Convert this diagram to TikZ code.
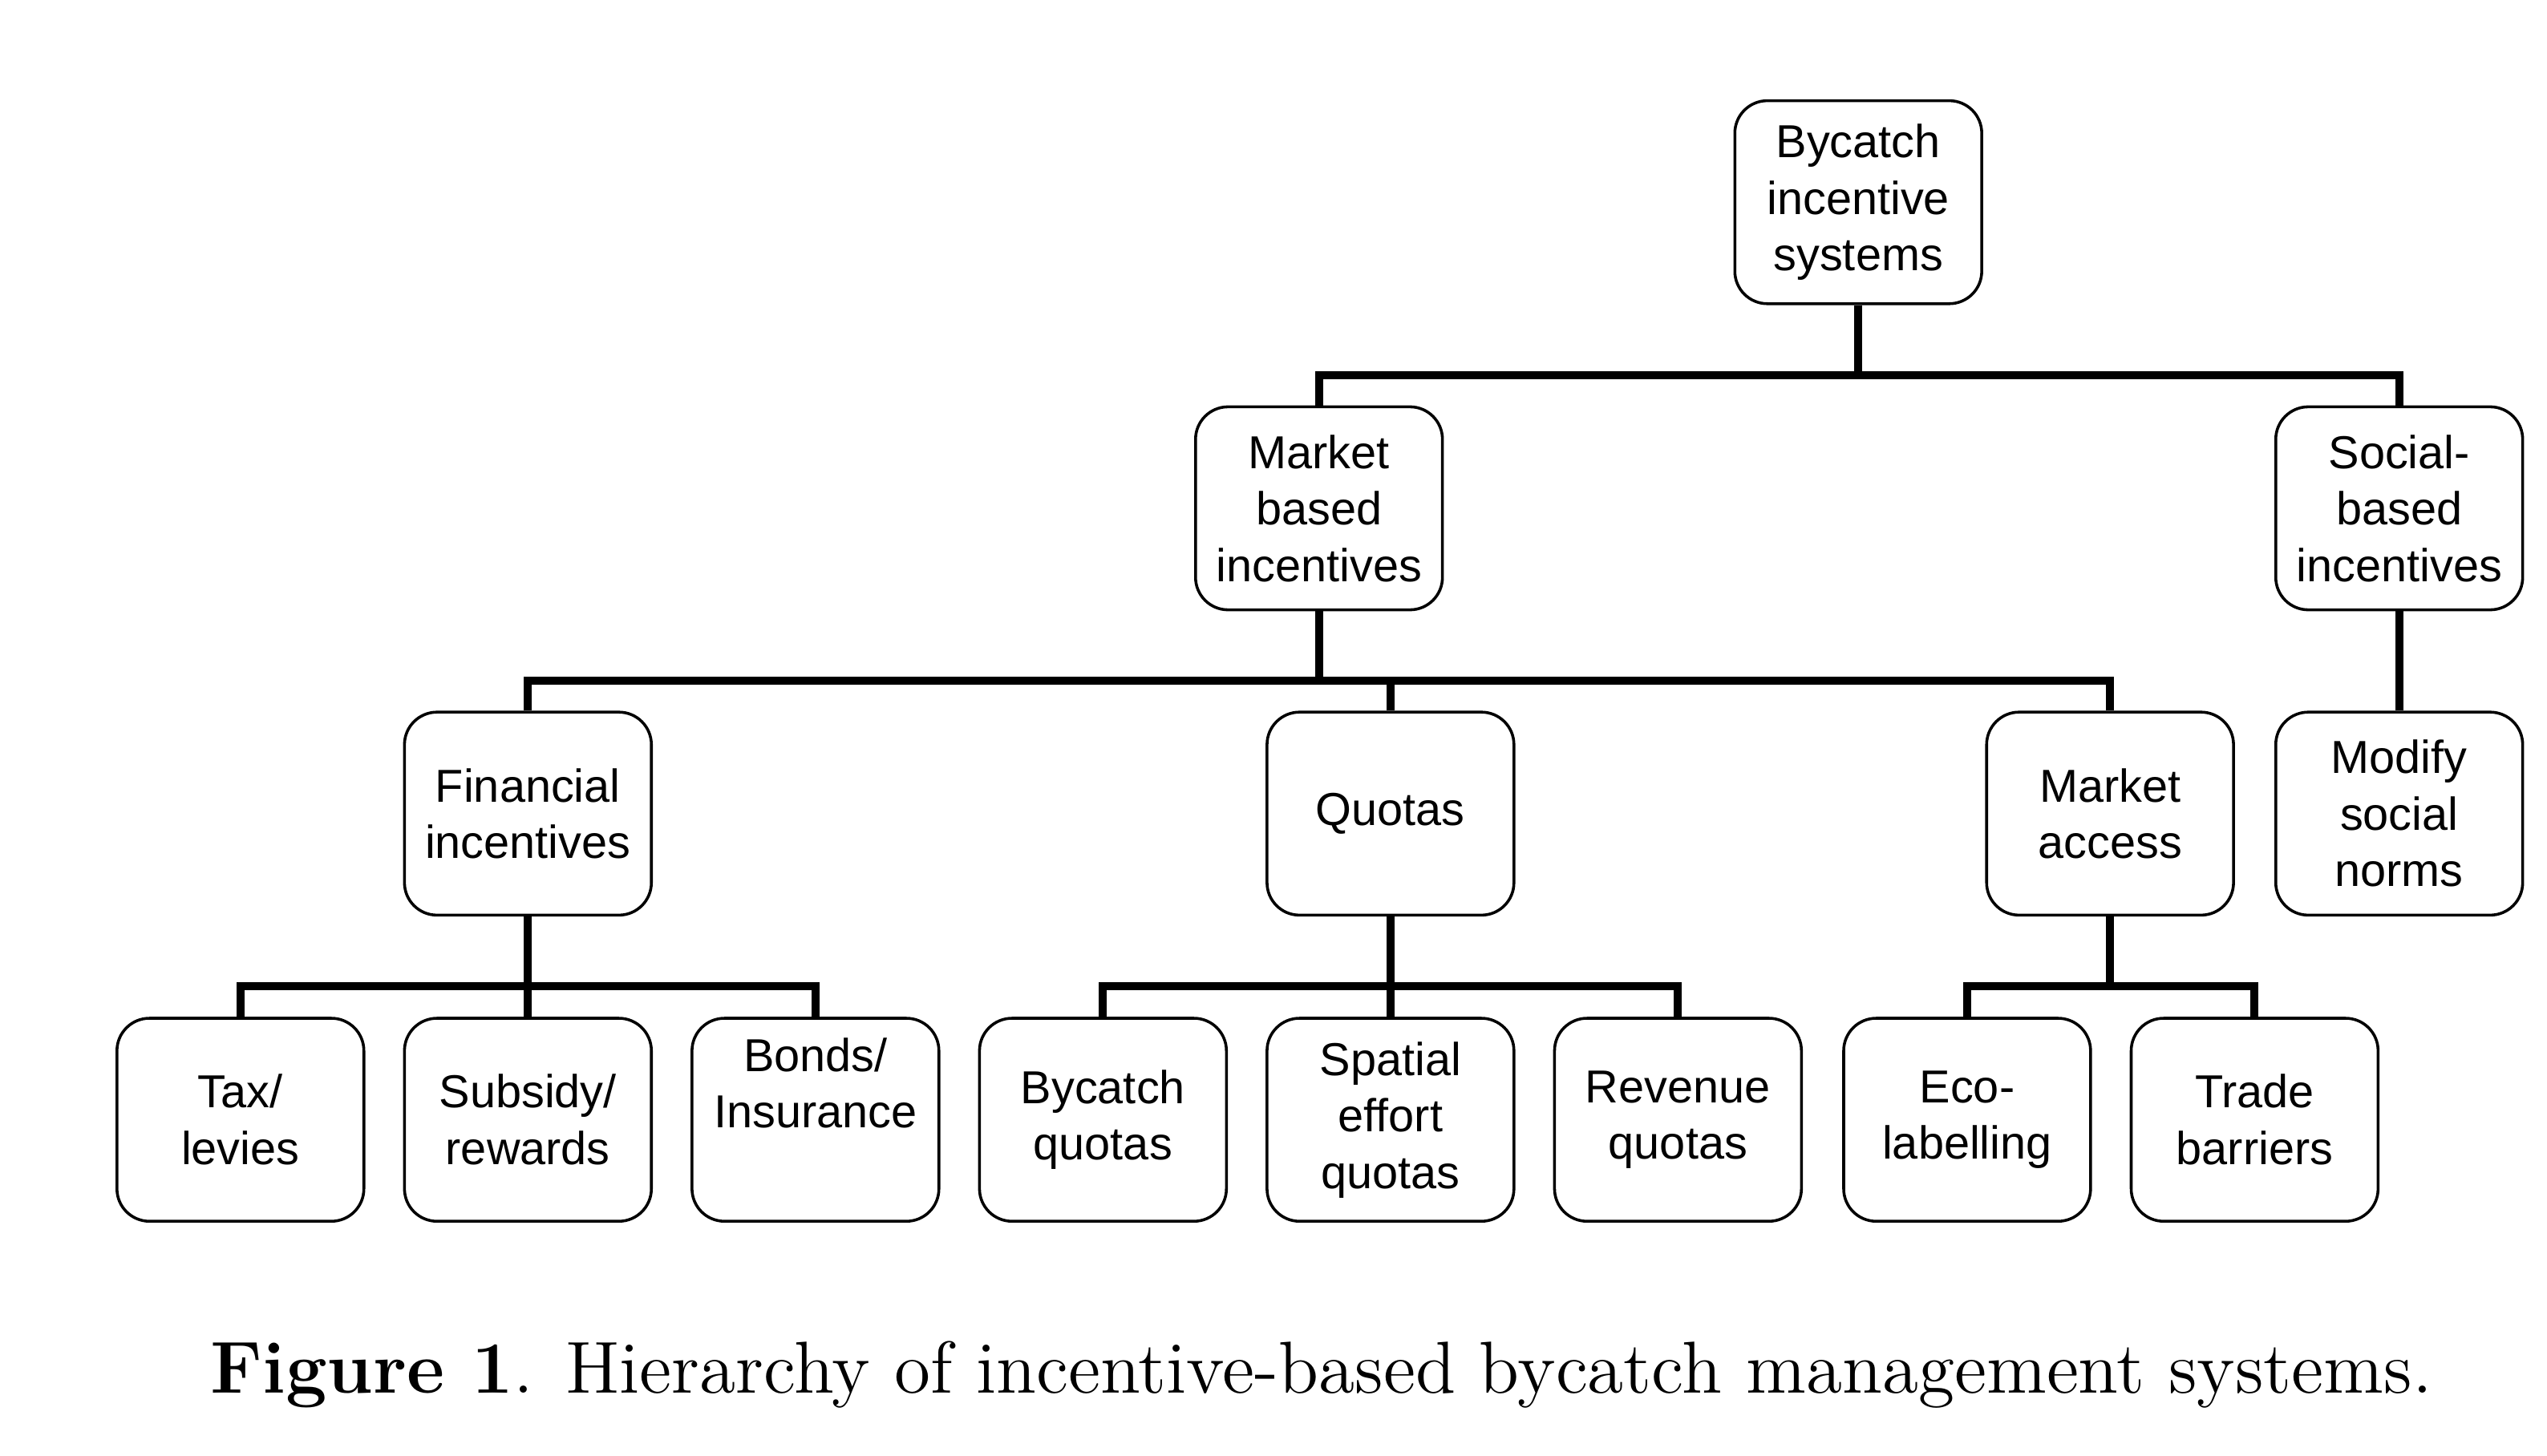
\documentclass[tikz,border=0pt]{standalone}
\usepackage{fontspec}
\newfontfamily\boxfont{Liberation Sans}

\tikzset{
  box/.style={draw, line width=0.5pt, rounded corners=0.2cm,
    minimum width=1.52cm, minimum height=1.25cm, inner sep=0pt,
    align=center, font=\boxfont\fontsize{8.1}{9.9}\selectfont},
  link/.style={line width=1.4pt}
}

\begin{document}
\begin{tikzpicture}
  \useasboundingbox (0,0) rectangle (15.68,8.965);

  % Top level
  \node[box] (sys) at (11.44,7.72) {Bycatch\\incentive\\systems};

  % Second level
  \node[box] (mkt) at (8.12,5.835) {Market\\based\\incentives};
  \node[box] (soc) at (14.77,5.835) {Social-\\based\\incentives};

  % Third level
  \node[box] (fin) at (3.25,3.955) {Financial\\incentives};
  \node[box] (quo) at (8.56,3.955) {Quotas};
  \node[box] (acc) at (12.99,3.955) {Market\\access};
  \node[box] (nrm) at (14.77,3.955) {Modify\\social\\norms};

  % Bottom level
  \node[box] (tax) at (1.48,2.07) {Tax/\\levies};
  \node[box] (sub) at (3.25,2.07) {Subsidy/\\rewards};
  \node[box] (bnd) at (5.02,2.07) {Bonds/\\Insurance\\\strut};
  \node[box] (bqt) at (6.79,2.07) {Bycatch\\quotas};
  \node[box] (spq) at (8.56,2.07) {Spatial\\effort\\quotas};
  \node[box] (rvq) at (10.33,2.07) {Revenue\\quotas};
  \node[box] (eco) at (12.11,2.07) {Eco-\\labelling};
  \node[box] (trd) at (13.88,2.07) {Trade\\barriers};

  % Links
  \foreach \c in {mkt,soc} \draw[link] (sys.south) -- ++(0,-0.43) -| (\c.north);
  \foreach \c in {fin,quo,acc} \draw[link] (mkt.south) -- ++(0,-0.43) -| (\c.north);
  \draw[link] (soc.south) -- (nrm.north);
  \foreach \c in {tax,sub,bnd} \draw[link] (fin.south) -- ++(0,-0.43) -| (\c.north);
  \foreach \c in {bqt,spq,rvq} \draw[link] (quo.south) -- ++(0,-0.43) -| (\c.north);
  \foreach \c in {eco,trd} \draw[link] (acc.south) -- ++(0,-0.43) -| (\c.north);

  % Caption
  \node[anchor=base, font=\fontsize{12.9}{15}\selectfont] (cap) at (8.135,0.385)
    {\textbf{Figure 1}. Hierarchy of incentive-based bycatch management systems.};
\end{tikzpicture}
\end{document}
